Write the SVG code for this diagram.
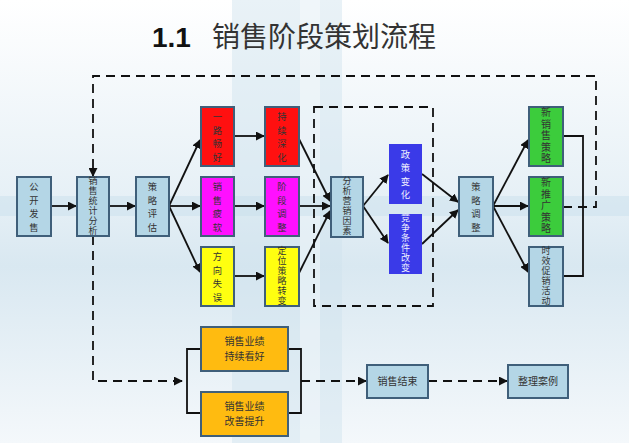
<svg xmlns="http://www.w3.org/2000/svg" width="629" height="443" viewBox="0 0 629 443">
<defs>
<linearGradient id="bg" x1="0" y1="0" x2="0" y2="1">
<stop offset="0" stop-color="#ffffff"/>
<stop offset="0.45" stop-color="#e6f0f6"/>
<stop offset="0.6" stop-color="#d9e8f1"/>
<stop offset="1" stop-color="#f4f8fb"/>
</linearGradient>
<marker id="ah" viewBox="0 0 10 10" refX="9" refY="5" markerWidth="9" markerHeight="9" markerUnits="userSpaceOnUse" orient="auto">
<path d="M0,0 L10,5 L0,10 z" fill="#111"/>
</marker>
<style>
.box{stroke:#3f5f7a;stroke-width:2}
.lb{fill:#b4d6e6}
.red{fill:#ff1010}
.mag{fill:#ff10ff}
.yel{fill:#ffff10}
.blu{fill:#3a3ae8}
.grn{fill:#3ccc3c}
.org{fill:#ffbb10}
.t{font-family:"Noto Sans CJK SC","Noto Sans",sans-serif;font-size:10px;fill:#333;text-anchor:middle}
.s4{font-size:9.3px}
.s5{font-size:10px}
.s6{font-size:9px}
.w{fill:#f0f0ff}
.ln{stroke:#111;stroke-width:1.8;fill:none}
.ds{stroke:#111;stroke-width:1.8;fill:none;stroke-dasharray:9,6}
</style>
</defs>
<rect x="0" y="0" width="629" height="443" fill="url(#bg)"/>
<rect x="232" y="0" width="110" height="443" fill="#cfe3ee" opacity="0.45"/>
<rect x="300" y="0" width="20" height="443" fill="#ffffff" opacity="0.35"/>
<rect x="0" y="196" width="629" height="20" fill="#c4dcea" opacity="0.4"/>

<g id="title">
<text x="152" y="47" font-family="Liberation Sans, Arial, sans-serif" font-weight="bold" font-size="28" fill="#111">1.1</text>
<text x="212" y="47" font-family="Noto Sans CJK SC, sans-serif" font-size="28" fill="#333">销售阶段策划流程</text>
</g>

<g id="connectors">
<path class="ds" d="M314,107 H433 V306 H314 Z"/>
<line class="ln" x1="51" y1="206" x2="76" y2="206" marker-end="url(#ah)"/>
<line class="ln" x1="109" y1="206" x2="135" y2="206" marker-end="url(#ah)"/>
<line class="ln" x1="169" y1="206" x2="200" y2="140" marker-end="url(#ah)"/>
<line class="ln" x1="169" y1="206" x2="200" y2="206" marker-end="url(#ah)"/>
<line class="ln" x1="169" y1="206" x2="200" y2="272" marker-end="url(#ah)"/>
<line class="ln" x1="234" y1="136" x2="264" y2="136" marker-end="url(#ah)"/>
<line class="ln" x1="234" y1="206" x2="264" y2="206" marker-end="url(#ah)"/>
<line class="ln" x1="234" y1="276" x2="264" y2="276" marker-end="url(#ah)"/>
<line class="ln" x1="298" y1="137" x2="330" y2="201" marker-end="url(#ah)"/>
<line class="ln" x1="299" y1="206" x2="330" y2="206" marker-end="url(#ah)"/>
<line class="ln" x1="298" y1="275" x2="330" y2="211" marker-end="url(#ah)"/>
<line class="ln" x1="363" y1="206" x2="388" y2="175" marker-end="url(#ah)"/>
<line class="ln" x1="363" y1="206" x2="388" y2="243" marker-end="url(#ah)"/>
<line class="ln" x1="422" y1="174" x2="458" y2="202" marker-end="url(#ah)"/>
<line class="ln" x1="422" y1="244" x2="458" y2="210" marker-end="url(#ah)"/>
<line class="ln" x1="493" y1="206" x2="528" y2="140" marker-end="url(#ah)"/>
<line class="ln" x1="493" y1="206" x2="528" y2="206" marker-end="url(#ah)"/>
<line class="ln" x1="493" y1="206" x2="528" y2="272" marker-end="url(#ah)"/>
<path class="ln" d="M563,136 H583 V276 H563"/>
<path class="ds" d="M563,207 H596 V76 H93 V176" marker-end="url(#ah)"/>
<path class="ds" d="M93,236 V381 H182" marker-end="url(#ah)"/>
<path class="ln" d="M201,349 H187 V413 H201"/>
<path class="ln" d="M288,349 H301 V413 H288"/>
<path class="ds" d="M301,381 H366" marker-end="url(#ah)"/>
<path class="ds" d="M428,381 H507" marker-end="url(#ah)"/>
</g>

<g id="n-gongkai"><rect class="box lb" x="17" y="177" width="34" height="59"/>
<text class="t s4"><tspan x="34" y="190">公</tspan><tspan x="34" y="203.5">开</tspan><tspan x="34" y="217">发</tspan><tspan x="34" y="230.5">售</tspan></text></g>

<g id="n-tongji"><rect class="box lb" x="77" y="177" width="32" height="59"/>
<text class="t s6"><tspan x="93" y="184">销</tspan><tspan x="93" y="194">售</tspan><tspan x="93" y="204">统</tspan><tspan x="93" y="214">计</tspan><tspan x="93" y="224">分</tspan><tspan x="93" y="234">析</tspan></text></g>

<g id="n-pinggu"><rect class="box lb" x="136" y="177" width="33" height="59"/>
<text class="t s4"><tspan x="152.5" y="190">策</tspan><tspan x="152.5" y="203.5">略</tspan><tspan x="152.5" y="217">评</tspan><tspan x="152.5" y="230.5">估</tspan></text></g>

<g id="n-yilu"><rect class="box red" x="201" y="107" width="33" height="59"/>
<text class="t s4"><tspan x="217.5" y="120">一</tspan><tspan x="217.5" y="133.5">路</tspan><tspan x="217.5" y="147">畅</tspan><tspan x="217.5" y="160.5">好</tspan></text></g>

<g id="n-chixu"><rect class="box red" x="265" y="107" width="34" height="59"/>
<text class="t s4"><tspan x="282" y="120">持</tspan><tspan x="282" y="133.5">续</tspan><tspan x="282" y="147">深</tspan><tspan x="282" y="160.5">化</tspan></text></g>

<g id="n-piruan"><rect class="box mag" x="201" y="177" width="33" height="59"/>
<text class="t s4"><tspan x="217.5" y="190">销</tspan><tspan x="217.5" y="203.5">售</tspan><tspan x="217.5" y="217">疲</tspan><tspan x="217.5" y="230.5">软</tspan></text></g>

<g id="n-jieduan"><rect class="box mag" x="265" y="177" width="34" height="59"/>
<text class="t s4"><tspan x="282" y="190">阶</tspan><tspan x="282" y="203.5">段</tspan><tspan x="282" y="217">调</tspan><tspan x="282" y="230.5">整</tspan></text></g>

<g id="n-fangxiang"><rect class="box yel" x="201" y="247" width="33" height="59"/>
<text class="t s4"><tspan x="217.5" y="260">方</tspan><tspan x="217.5" y="273.5">向</tspan><tspan x="217.5" y="287">失</tspan><tspan x="217.5" y="300.5">误</tspan></text></g>

<g id="n-dingwei"><rect class="box yel" x="265" y="247" width="34" height="59"/>
<text class="t s6"><tspan x="282" y="254">定</tspan><tspan x="282" y="264">位</tspan><tspan x="282" y="274">策</tspan><tspan x="282" y="284">略</tspan><tspan x="282" y="294">转</tspan><tspan x="282" y="304">变</tspan></text></g>

<g id="n-fenxi"><rect class="box lb" x="331" y="177" width="32" height="60"/>
<text class="t s6"><tspan x="347" y="184">分</tspan><tspan x="347" y="194">析</tspan><tspan x="347" y="204">营</tspan><tspan x="347" y="214">销</tspan><tspan x="347" y="224">因</tspan><tspan x="347" y="234">素</tspan></text></g>

<g id="n-zhengce"><rect class="blu" x="389" y="144" width="33" height="60"/>
<text class="t w s4"><tspan x="405.5" y="157.5">政</tspan><tspan x="405.5" y="171">策</tspan><tspan x="405.5" y="184.5">变</tspan><tspan x="405.5" y="198">化</tspan></text></g>

<g id="n-jingzheng"><rect class="blu" x="389" y="214" width="33" height="60"/>
<text class="t w s6"><tspan x="405.5" y="221">竞</tspan><tspan x="405.5" y="231">争</tspan><tspan x="405.5" y="241">条</tspan><tspan x="405.5" y="251">件</tspan><tspan x="405.5" y="261">改</tspan><tspan x="405.5" y="271">变</tspan></text></g>

<g id="n-tiaozheng"><rect class="box lb" x="459" y="177" width="34" height="59"/>
<text class="t s4"><tspan x="476" y="190">策</tspan><tspan x="476" y="203.5">略</tspan><tspan x="476" y="217">调</tspan><tspan x="476" y="230.5">整</tspan></text></g>

<g id="n-xinxiaoshou"><rect class="box grn" x="529" y="107" width="34" height="59"/>
<text class="t s5"><tspan x="546" y="116">新</tspan><tspan x="546" y="127.5">销</tspan><tspan x="546" y="139">售</tspan><tspan x="546" y="150.5">策</tspan><tspan x="546" y="162">略</tspan></text></g>

<g id="n-xintuiguang"><rect class="box grn" x="529" y="177" width="34" height="59"/>
<text class="t s5"><tspan x="546" y="186">新</tspan><tspan x="546" y="197.5">推</tspan><tspan x="546" y="209">广</tspan><tspan x="546" y="220.5">策</tspan><tspan x="546" y="232">略</tspan></text></g>

<g id="n-shixiao"><rect class="box lb" x="529" y="247" width="34" height="59"/>
<text class="t s6"><tspan x="546" y="254">时</tspan><tspan x="546" y="264">效</tspan><tspan x="546" y="274">促</tspan><tspan x="546" y="284">销</tspan><tspan x="546" y="294">活</tspan><tspan x="546" y="304">动</tspan></text></g>

<g id="n-yeji1"><rect class="box org" x="201" y="327" width="87" height="44"/>
<text class="t"><tspan x="244.5" y="345">销售业绩</tspan><tspan x="244.5" y="360">持续看好</tspan></text></g>

<g id="n-yeji2"><rect class="box org" x="201" y="392" width="87" height="44"/>
<text class="t"><tspan x="244.5" y="410">销售业绩</tspan><tspan x="244.5" y="425">改善提升</tspan></text></g>

<g id="n-jieshu"><rect class="box lb" x="367" y="365" width="61" height="33"/>
<text class="t" x="397.5" y="385">销售结束</text></g>

<g id="n-anli"><rect class="box lb" x="508" y="365" width="60" height="33"/>
<text class="t" x="538" y="385">整理案例</text></g>
</svg>
